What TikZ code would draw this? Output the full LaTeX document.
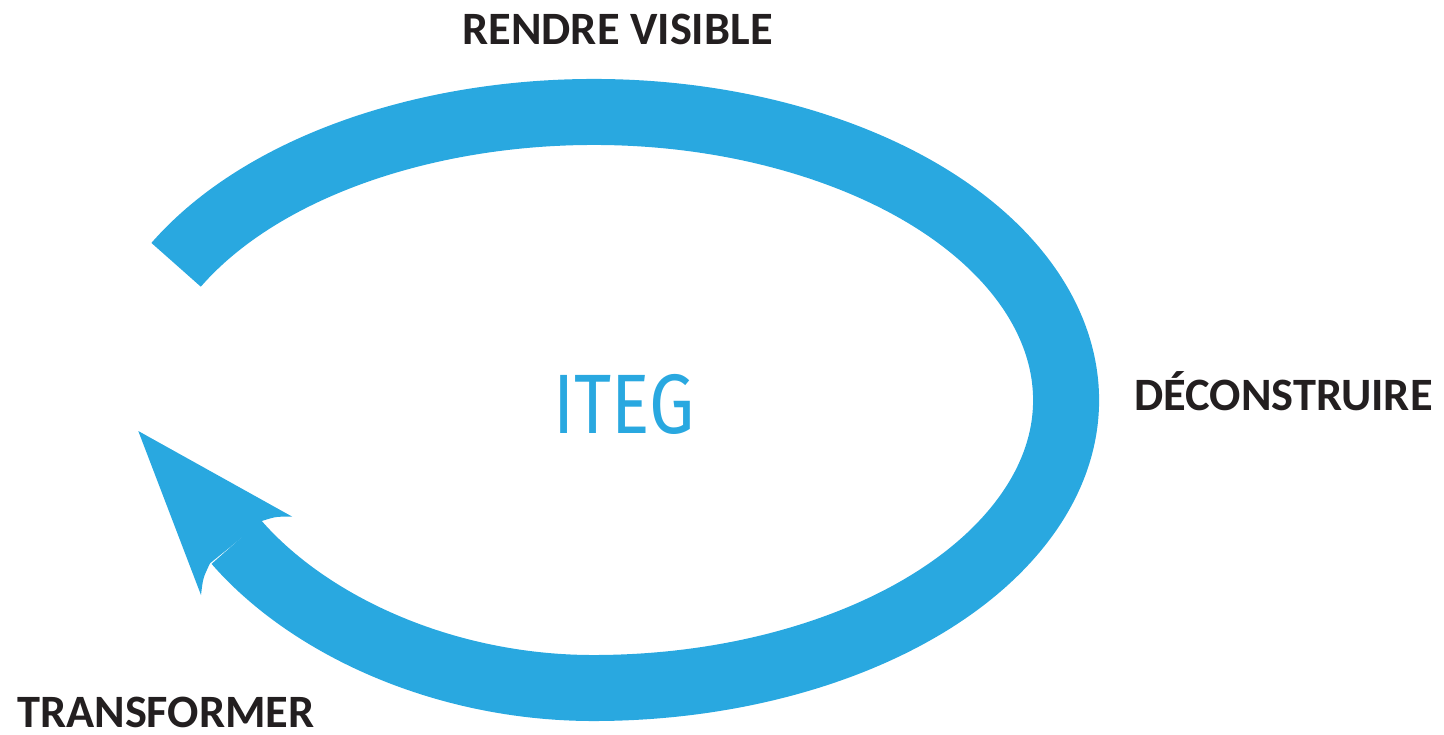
\documentclass[tikz,border=0pt]{standalone}
\usepackage{fontspec}
\setmainfont{Carlito}
\newfontfamily\itegfont{Fira Sans}
\usetikzlibrary{calc}
\definecolor{itegblue}{RGB}{41,168,224}
\definecolor{labelink}{RGB}{35,31,32}

\begin{document}
\begin{tikzpicture}[x=0.1mm, y=-0.1mm,
    stagelabel/.style={anchor=base, inner sep=0pt, text=labelink, font=\fontsize{13.2pt}{15pt}\selectfont\bfseries}]
    \useasboundingbox (0,0) rectangle (1444,734);

    % Define the points
    \coordinate (ctr) at (593.4,400);
    \coordinate (start) at ($(ctr)+(-152:472.6 and 288)$);
    \coordinate (stop) at (236.3,542);
    \coordinate (tip) at (138.3,431);
    \coordinate (barbU) at (292.3,516.7);
    \coordinate (notchU) at (262.7,520.7);
    \coordinate (notchL) at (210,563.3);
    \coordinate (barbL) at (201,595);

    % Draw the loop
    \draw[itegblue, line width=6.6mm] (start)
        arc[start angle=-152, end angle=90, x radius=472.6, y radius=288]
        .. controls (443.4,688) and (308.5,625) .. (stop);

    % Arrow head at the end of the loop
    \fill[itegblue] (tip) -- (barbU) .. controls (276,516.5) .. (notchU)
        -- (notchL) .. controls (203,578) .. (barbL) -- cycle;

    % Label the centre
    \node[anchor=base, inner sep=0pt, text=itegblue, font=\itegfont\fontsize{24pt}{28pt}\selectfont]
        (iteg) at (624,433) {\scalebox{0.85}[1]{ITEG}};

    % Label the stages
    \node[stagelabel] (rendre) at (617.5,44) {RENDRE VISIBLE};
    \node[stagelabel] (deconstruire) at (1283.5,410) {DÉCONSTRUIRE};
    \node[stagelabel] (transformer) at (166,727) {TRANSFORMER};
\end{tikzpicture}
\end{document}
